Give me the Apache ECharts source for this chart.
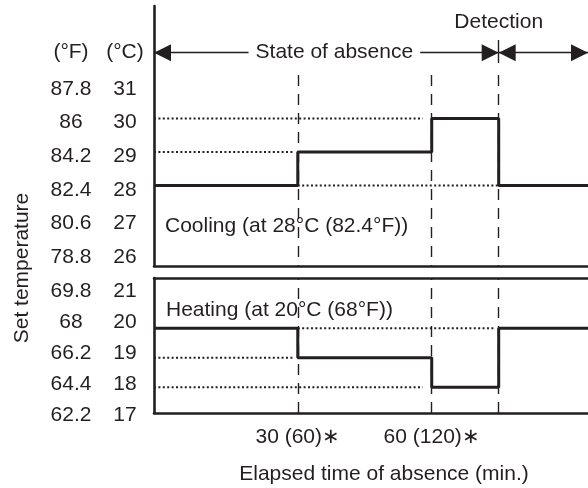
<!DOCTYPE html>
<html><head><meta charset="utf-8">
<script src="https://cdn.jsdelivr.net/npm/echarts@6/dist/echarts.min.js"></script>
<style>html,body{margin:0;padding:0;background:#fff}#c{width:588px;height:488px}</style>
</head><body><div id="c"></div>
<script>
// ---------- data ----------
const stepTimes   = [0, 30, 60, 75, 95];        // phase boundaries (min); first point is replaced by axis start
const coolingSet  = [28, 29, 30, 28, 28];       // °C set temperature, cooling
const heatingSet  = [20, 19, 18, 20, 20];       // °C set temperature, heating
const coolAltLevel = [30, 29, 28];              // dotted reference levels, cooling
const coolAltFrom  = [0, 0, 30];
const coolAltTo    = [58, 29, 75];
const heatAltLevel = [20, 19, 18];              // dotted reference levels, heating
const heatAltFrom  = [30, 0, 0];
const heatAltTo    = [74, 29, 58];
const markTimes    = [30, 60, 75];              // dashed vertical marks
const detectionTime = 75;
const timeTickValues = [30, 60];
const timeTickLabels = ['30 (60)\u2217', '60 (120)\u2217'];
const coolTicksC = [26, 27, 28, 29, 30, 31];
const coolTicksF = ['78.8', '80.6', '82.4', '84.2', '86', '87.8'];
const heatTicksC = [17, 18, 19, 20, 21];
const heatTicksF = ['62.2', '64.4', '66.2', '68', '69.8'];

// ---------- layout ----------
const X_MIN = -2.2, X_MAX = 95;
const UP_MIN = 25.587, UP_MAX = 33.371;
const LO_MIN = 17.125, LO_MAX = 21.702;
const ARROW_Y = 31.973, DASH_TOP = 31.305, DET_TOP = 32.353, DET_SOLID_BOTTOM = 31.665;
const INK = '#231f20';
const FONT = 'Liberation Sans, Arial, Helvetica, sans-serif';
const FS = 21;

const startAt = t => (t === 0 ? X_MIN : t);
const coolData = stepTimes.map((t, i) => [startAt(t), coolingSet[i]]);
const heatData = stepTimes.map((t, i) => [startAt(t), heatingSet[i]]);

const dotted = {color: INK, width: 2, type: [2, 2.4]};
const altSeries = [];
coolAltLevel.forEach((v, i) => altSeries.push({
  type: 'line', xAxisIndex: 0, yAxisIndex: 0, symbol: 'none', silent: true,
  lineStyle: dotted, data: [[startAt(coolAltFrom[i]), v], [coolAltTo[i], v]]
}));
heatAltLevel.forEach((v, i) => altSeries.push({
  type: 'line', xAxisIndex: 1, yAxisIndex: 1, symbol: 'none', silent: true,
  lineStyle: dotted, data: [[startAt(heatAltFrom[i]), v], [heatAltTo[i], v]]
}));

const dashStyle = {color: INK, width: 1.4, type: [11, 8]};
const axisLineStyle = {color: INK, width: 2.6};

const plainX = (grid, extra) => Object.assign({
  gridIndex: grid, type: 'value', min: X_MIN, max: X_MAX,
  axisLine: {show: true, onZero: false, lineStyle: axisLineStyle},
  axisTick: {show: false}, axisLabel: {show: false}, splitLine: {show: false}
}, extra || {});

const labelY = (grid, min, max, fmt, margin) => ({
  gridIndex: grid, type: 'value', position: 'left', offset: 0, min: min, max: max, interval: 1,
  axisLine: {show: false}, axisTick: {show: false}, splitLine: {show: false},
  axisLabel: {show: true, margin: margin, align: 'center', color: INK, fontSize: FS, fontFamily: FONT,
    formatter: fmt}
});

const chart = echarts.init(document.getElementById('c'), null, {renderer: 'canvas'});
chart.setOption({
  animation: false,
  backgroundColor: '#fff',
  grid: [
    {left: 154, right: 0, top: 6, height: 260},
    {left: 154, right: 0, top: 278, height: 135},
    {left: 154, right: 0, top: 89, height: 168},
    {left: 154, right: 0, top: 291.5, height: 123.5}
  ],
  xAxis: [
    plainX(0),
    plainX(1, {
      axisLabel: {show: true, customValues: timeTickValues, margin: 14, color: INK, fontSize: FS, fontFamily: FONT,
        formatter: v => timeTickLabels[timeTickValues.indexOf(v)]},
      name: 'Elapsed time of absence (min.)', nameLocation: 'middle', nameGap: 51,
      nameTextStyle: {color: INK, fontSize: FS, fontFamily: FONT, padding: [0, 0, 0, 26]}
    }),
    plainX(1, {position: 'top'}),
    {gridIndex: 2, type: 'value', min: X_MIN, max: X_MAX, show: false},
    {gridIndex: 3, type: 'value', min: X_MIN, max: X_MAX, show: false}
  ],
  yAxis: [
    {gridIndex: 0, type: 'value', position: 'left', min: UP_MIN, max: UP_MAX,
      axisLine: {show: true, onZero: false, lineStyle: axisLineStyle},
      axisTick: {show: false}, axisLabel: {show: false}, splitLine: {show: false}},
    {gridIndex: 1, type: 'value', position: 'left', min: LO_MIN, max: LO_MAX,
      axisLine: {show: true, onZero: false, lineStyle: axisLineStyle},
      axisTick: {show: false}, axisLabel: {show: false}, splitLine: {show: false}},
    labelY(2, 26, 31, v => String(v), 29),
    labelY(2, 26, 31, v => coolTicksF[coolTicksC.indexOf(v)], 83),
    labelY(3, 17, 21, v => String(v), 29),
    labelY(3, 17, 21, v => heatTicksF[heatTicksC.indexOf(v)], 83)
  ],
  series: altSeries.concat([
    {
      name: 'Cooling', type: 'line', xAxisIndex: 0, yAxisIndex: 0, step: 'end', symbol: 'none',
      lineStyle: {color: INK, width: 3}, data: coolData, z: 5,
      markLine: {
        silent: true, symbol: 'none', lineStyle: dashStyle, label: {show: false},
        data: markTimes.map(t => [{coord: [t, DASH_TOP]}, {coord: [t, UP_MIN]}]).concat([
          [{coord: [detectionTime, DET_SOLID_BOTTOM], lineStyle: {type: 'solid', width: 1.4, color: INK},
            label: {show: true, position: 'end', formatter: 'Detection', distance: 7,
              color: INK, fontSize: FS, fontFamily: FONT}},
           {coord: [detectionTime, DET_TOP]}]
        ])
      }
    },
    {
      name: 'Phases', type: 'line', xAxisIndex: 0, yAxisIndex: 0, symbol: 'none', data: [],
      markLine: {
        silent: true, symbol: ['triangle', 'triangle'], symbolSize: 17,
        symbolOffset: [[0, 8.5], [0, 8.5]],
        lineStyle: {color: INK, width: 1.4, type: 'solid'},
        label: {show: false},
        data: [
          [{coord: [X_MIN, ARROW_Y],
            label: {show: true, position: 'middle', verticalAlign: 'middle', distance: 0,
              formatter: '{g|}{t|State of absence}',
              rich: {g: {width: 16}, t: {backgroundColor: '#fff', padding: [2, 7], color: INK, fontSize: FS, fontFamily: FONT}}}},
           {coord: [detectionTime, ARROW_Y]}],
          [{coord: [detectionTime, ARROW_Y]}, {coord: [X_MAX, ARROW_Y]}]
        ]
      }
    },
    {
      name: 'Heating', type: 'line', xAxisIndex: 1, yAxisIndex: 1, step: 'end', symbol: 'none',
      lineStyle: {color: INK, width: 3}, data: heatData, z: 5,
      markLine: {
        silent: true, symbol: 'none', lineStyle: dashStyle, label: {show: false},
        data: markTimes.map(t => ({xAxis: t}))
      }
    }
  ]),
  graphic: [
    {type: 'text', x: 22, y: 268, rotation: Math.PI / 2,
      style: {text: 'Set temperature', fill: INK, font: FS + 'px ' + FONT, align: 'center', verticalAlign: 'middle'}},
    {type: 'text', x: 71, y: 52,
      style: {text: '(°F)', fill: INK, font: FS + 'px ' + FONT, align: 'center', verticalAlign: 'middle'}},
    {type: 'text', x: 125, y: 52,
      style: {text: '(°C)', fill: INK, font: FS + 'px ' + FONT, align: 'center', verticalAlign: 'middle'}},
    {type: 'text', x: 165, y: 226,
      style: {text: 'Cooling (at 28°C (82.4°F))', fill: INK, font: FS + 'px ' + FONT, align: 'left', verticalAlign: 'middle'}},
    {type: 'text', x: 166, y: 310,
      style: {text: 'Heating (at 20°C (68°F))', fill: INK, font: FS + 'px ' + FONT, align: 'left', verticalAlign: 'middle'}}
  ]
});
</script>
</body></html>
